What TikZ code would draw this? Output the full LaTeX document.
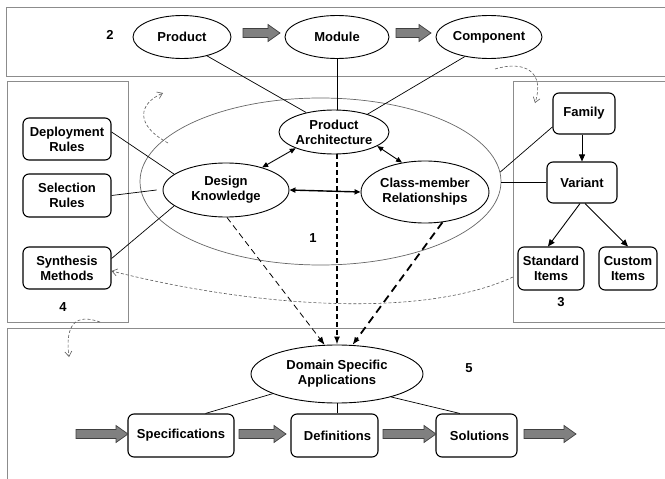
\documentclass[tikz,border=0pt]{standalone}
\usepackage{fontspec}
\setmainfont{Liberation Sans}
\usetikzlibrary{shapes.geometric,arrows.meta}
\definecolor{panelgray}{gray}{0.55}
\definecolor{arrowfill}{gray}{0.5}
\definecolor{arrowedge}{gray}{0.25}
\definecolor{hintgray}{gray}{0.35}
\begin{document}
\begin{tikzpicture}[x=1pt,y=-1pt,
  every node/.style={font=\fontsize{13}{15}\selectfont\bfseries, align=center, inner sep=0pt},
  panel/.style={draw=panelgray, line width=1pt},
  oval/.style={ellipse, draw, line width=0.9pt},
  box/.style={rectangle, draw, rounded corners=6pt, line width=1.1pt},
  link/.style={line width=0.7pt},
  twoway/.style={line width=0.9pt, {Triangle[length=6pt,width=5pt]}-{Triangle[length=6pt,width=5pt]}},
  mainlink/.style={line width=1.4pt, {Triangle[length=6pt,width=5pt]}-{Triangle[length=6pt,width=5pt]}},
  down/.style={line width=0.9pt, -{Triangle[length=7pt,width=6pt]}},
  feed/.style={-{Latex[length=8pt,width=6pt]}},
  hint/.style={draw=hintgray, line width=0.6pt, dash pattern=on 3pt off 2pt, -{Straight Barb[length=5pt,width=7pt]}},
  fatline/.style={draw=arrowedge, fill=arrowfill, line width=0.7pt},
  pics/fatarrow/.style={code={\path[fatline] (0,-4.5) -- (#1-12,-4.5) -- (#1-12,-8.5) -- (#1,0) -- (#1-12,8.5) -- (#1-12,4.5) -- (0,4.5) -- cycle;}}
]
\useasboundingbox (0,0) rectangle (665,479);
\clip (0,0) rectangle (665,479);

% panels
\draw[panel] (6,7) rectangle (672,76);
\draw[panel] (7,81) rectangle (128,322);
\draw[panel] (513,81) rectangle (672,322);
\draw[panel] (7,328) rectangle (672,490);

% panel numbers
\node (n2) at (110,35) {2};
\node (n1) at (313,238) {1};
\node (n3) at (561,302) {3};
\node (n4) at (63,307) {4};
\node (n5) at (469,368) {5};

% product hierarchy
\node[oval, minimum width=98pt, minimum height=43pt] (prod) at (182,37) {Product};
\node[oval, minimum width=104pt, minimum height=43pt] (mod) at (337,37) {Module};
\node[oval, minimum width=106pt, minimum height=43pt] (comp) at (489,37) {Component};
\pic at (243,33) {fatarrow=37};
\pic at (396,33) {fatarrow=35};

% core knowledge region
\node[ellipse, draw=black!60, line width=0.7pt, minimum width=361pt, minimum height=167pt] (core) at (320.5,181.5) {};
\node[oval, minimum width=110pt, minimum height=44pt] (pa) at (334,132) {Product\\Architecture};
\node[oval, minimum width=126pt, minimum height=54pt] (dk) at (226,190) {Design\\Knowledge};
\node[oval, minimum width=128pt, minimum height=62pt] (cmr) at (425,192) {Class-member\\Relationships};

% left panel
\node[box, minimum width=88pt, minimum height=42pt] (dep) at (67,139) {Deployment\\Rules};
\node[box, minimum width=88pt, minimum height=43pt] (sel) at (67,195.5) {Selection\\Rules};
\node[box, minimum width=88pt, minimum height=42pt] (syn) at (67,268) {Synthesis\\Methods};

% right panel
\node[box, minimum width=62pt, minimum height=41pt] (fam) at (584,113.5) {Family};
\node[box, minimum width=70pt, minimum height=41pt] (var) at (582,182.5) {Variant};
\node[box, minimum width=66pt, minimum height=43pt] (std) at (551,268.5) {Standard\\Items};
\node[box, minimum width=58pt, minimum height=43pt] (cus) at (628,268.5) {Custom\\Items};

% application panel
\node[oval, minimum width=172pt, minimum height=58pt] (dsa) at (337,374) {Domain Specific\\Applications};
\node[box, minimum width=106pt, minimum height=43pt] (spec) at (181,435.5) {Specifications};
\node[box, minimum width=87pt, minimum height=43pt] (def) at (334.5,435.5) {\hspace*{6pt}Definitions};
\node[box, minimum width=81pt, minimum height=43pt] (sol) at (476.5,435.5) {\hspace*{6pt}Solutions};
\pic at (76,434) {fatarrow=52};
\pic at (239,434) {fatarrow=47};
\pic at (383,434) {fatarrow=53};
\pic at (524,434) {fatarrow=52};

% hierarchy to architecture
\draw[link] (prod.-37) -- (pa.145);
\draw[link] (mod.south) -- (mod.south |- pa.north);
\draw[link] (comp.-141) -- (pa.28);

% rules to design knowledge
\draw[link] (dep.9) -- (dk.163);
\draw[link] (sel.east) -- ([xshift=-6pt]dk.west);
\draw[link] (syn.12) -- (dk.197);

% family tree
\draw[link] (fam.203) -- (core.3);
\draw[link] (var.west) -- (var.west -| core.east);
\draw[down] (fam.south -| var.north) -- (var.north);
\draw[down] ([xshift=-2pt]var.south) -- ([xshift=-3pt]std.north);
\draw[down] ([xshift=3pt]var.south) -- (cus.north);

% relations inside the core
\draw[mainlink] (dk.east) -- (cmr.west);
\draw[twoway] (dk.32) -- (pa.203);
\draw[twoway] (pa.-18) -- (cmr.128);

% feeds into applications
\draw[feed, line width=0.8pt, dash pattern=on 6pt off 4pt] (dk.-88) -- (dsa.113);
\draw[feed, line width=1.5pt, dash pattern=on 5pt off 3pt] (dsa.north |- pa.south) -- (dsa.north);
\draw[feed, line width=1.8pt, dash pattern=on 8pt off 5pt] (cmr.-60) -- (dsa.62);

% applications to process steps
\draw[link] (dsa.197) -- (spec.42);
\draw[link] (dsa.south) -- (dsa.south |- def.north);
\draw[link] (dsa.-23) -- (sol.127);

% dashed cycle hints
\coordinate (h1a) at (168,143);
\coordinate (h1b) at (163,93);
\coordinate (h2a) at (495,69);
\coordinate (h2b) at (535,103);
\coordinate (h3a) at (513,277);
\coordinate (h4a) at (100,322);
\coordinate (h4b) at (69,357);
\draw[hint] (h1a) .. controls (135,125) and (138,104) .. (h1b);
\draw[hint] (h2a) .. controls (525,60) and (545,72) .. (h2b);
\draw[hint] (h3a) .. controls (420,320) and (250,306) .. (syn.east |- 0,271);
\draw[hint] (h4a) .. controls (75,313) and (65,325) .. (h4b);
\end{tikzpicture}
\end{document}
